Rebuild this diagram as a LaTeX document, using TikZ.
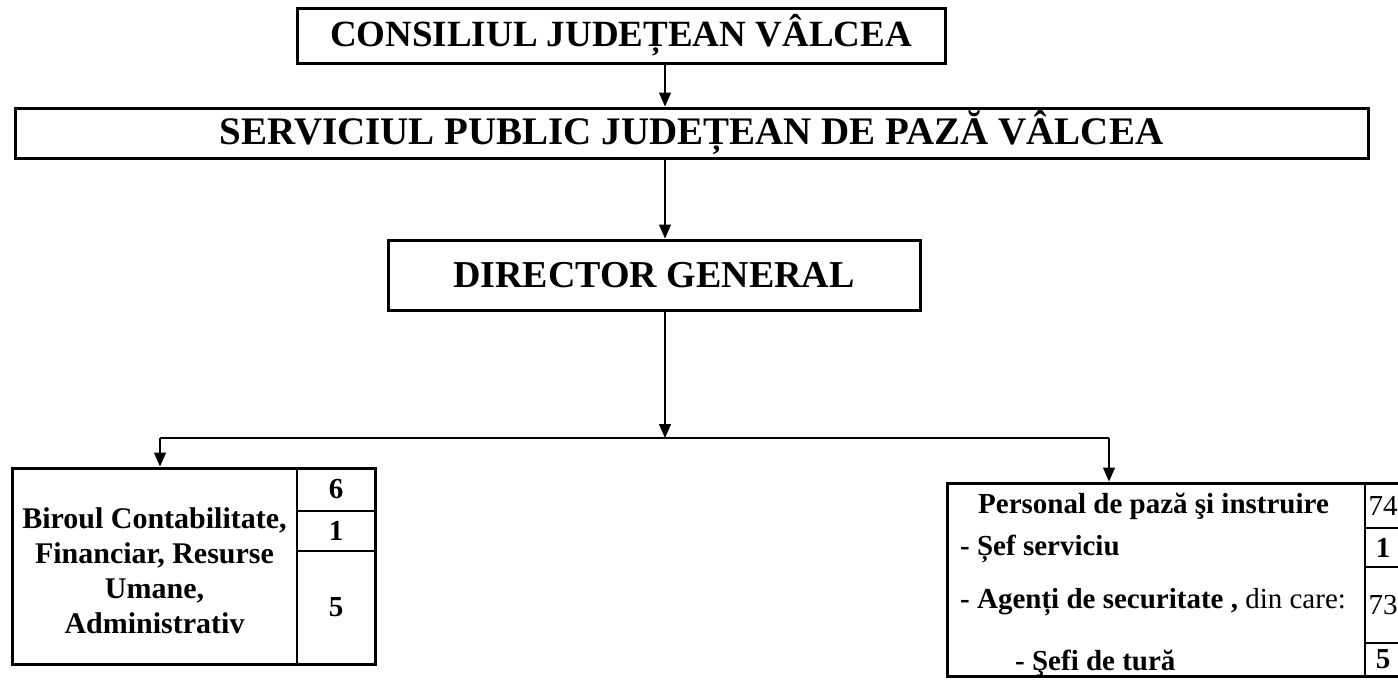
\documentclass[tikz,border=0pt]{standalone}
\usepackage{fontspec}
\setmainfont{Liberation Serif}
\usetikzlibrary{arrows.meta}

\begin{document}
\begin{tikzpicture}[x=1pt, y=-1pt,
  box/.style={draw, line width=3pt, inner sep=0pt, font=\fontsize{37}{40}\selectfont\bfseries},
  cell/.style={draw, line width=2pt, inner sep=0pt, font=\fontsize{29}{34}\selectfont\bfseries},
  txt/.style={inner sep=0pt, font=\fontsize{29}{34}\selectfont\bfseries},
  arr/.style={line width=1.2pt, -{Triangle[length=14pt, width=12pt]}}]
\useasboundingbox (0,0) rectangle (1398,680);
\coordinate (axis) at (665,0);
\node[box, minimum width=648, minimum height=55](1) at (621,35.5) {CONSILIUL JUDEȚEAN VÂLCEA};
\node[box, minimum width=1353, minimum height=50, font=\fontsize{39}{42}\selectfont\bfseries](2) at (691.5,133) {SERVICIUL PUBLIC JUDEȚEAN DE PAZĂ VÂLCEA};
\node[box, minimum width=532, minimum height=70, font=\fontsize{38}{42}\selectfont\bfseries](3) at (654,275) {DIRECTOR GENERAL};
\node[box, minimum width=363, minimum height=196](4) at (193.5,566) {};
\node[box, minimum width=453, minimum height=193](5) at (1173.5,579.5) {};
\node[cell, minimum width=78, minimum height=43](4a) at (336,489.5) {6};
\node[cell, minimum width=78, minimum height=40](4b) at (336,531) {1};
\node[cell, minimum width=78, minimum height=113](4c) at (336,607.5) {5};
\node[txt, align=center, font=\fontsize{30}{35}\selectfont\bfseries](4t) at (154.5,571)
  {Biroul Contabilitate,\\Financiar, Resurse\\Umane,\\Administrativ};
\node[cell, minimum width=37, minimum height=45](5a) at (1383,505.5) {\mdseries 74};
\node[cell, minimum width=37, minimum height=39](5b) at (1383,547.5) {1};
\node[cell, minimum width=37, minimum height=76](5c) at (1383,605) {\mdseries 73};
\node[cell, minimum width=37, minimum height=33](5d) at (1383,659.5) {5};
\node[txt, anchor=base west](5t1) at (978,513) {Personal de pază şi instruire};
\node[txt, anchor=base west](5t2) at (960,555) {- Șef serviciu};
\node[txt, anchor=base west](5t3) at (960,608) {- Agenți de securitate , \textmd{din care:}};
\node[txt, anchor=base west](5t4) at (1015,670) {- Şefi de tură};
\coordinate (jl) at (160,438);
\coordinate (jr) at (1109,438);
\draw[arr] (1.south -| axis) -- (2.north -| axis);
\draw[arr] (2.south -| axis) -- (3.north -| axis);
\draw[arr] (3.south -| axis) -- (axis |- jl);
\draw[line width=1.2pt] (jl) -- (jr);
\draw[arr] (jl) -- (jl |- 4.north);
\draw[arr] (jr) -- (jr |- 5.north);
\end{tikzpicture}
\end{document}
